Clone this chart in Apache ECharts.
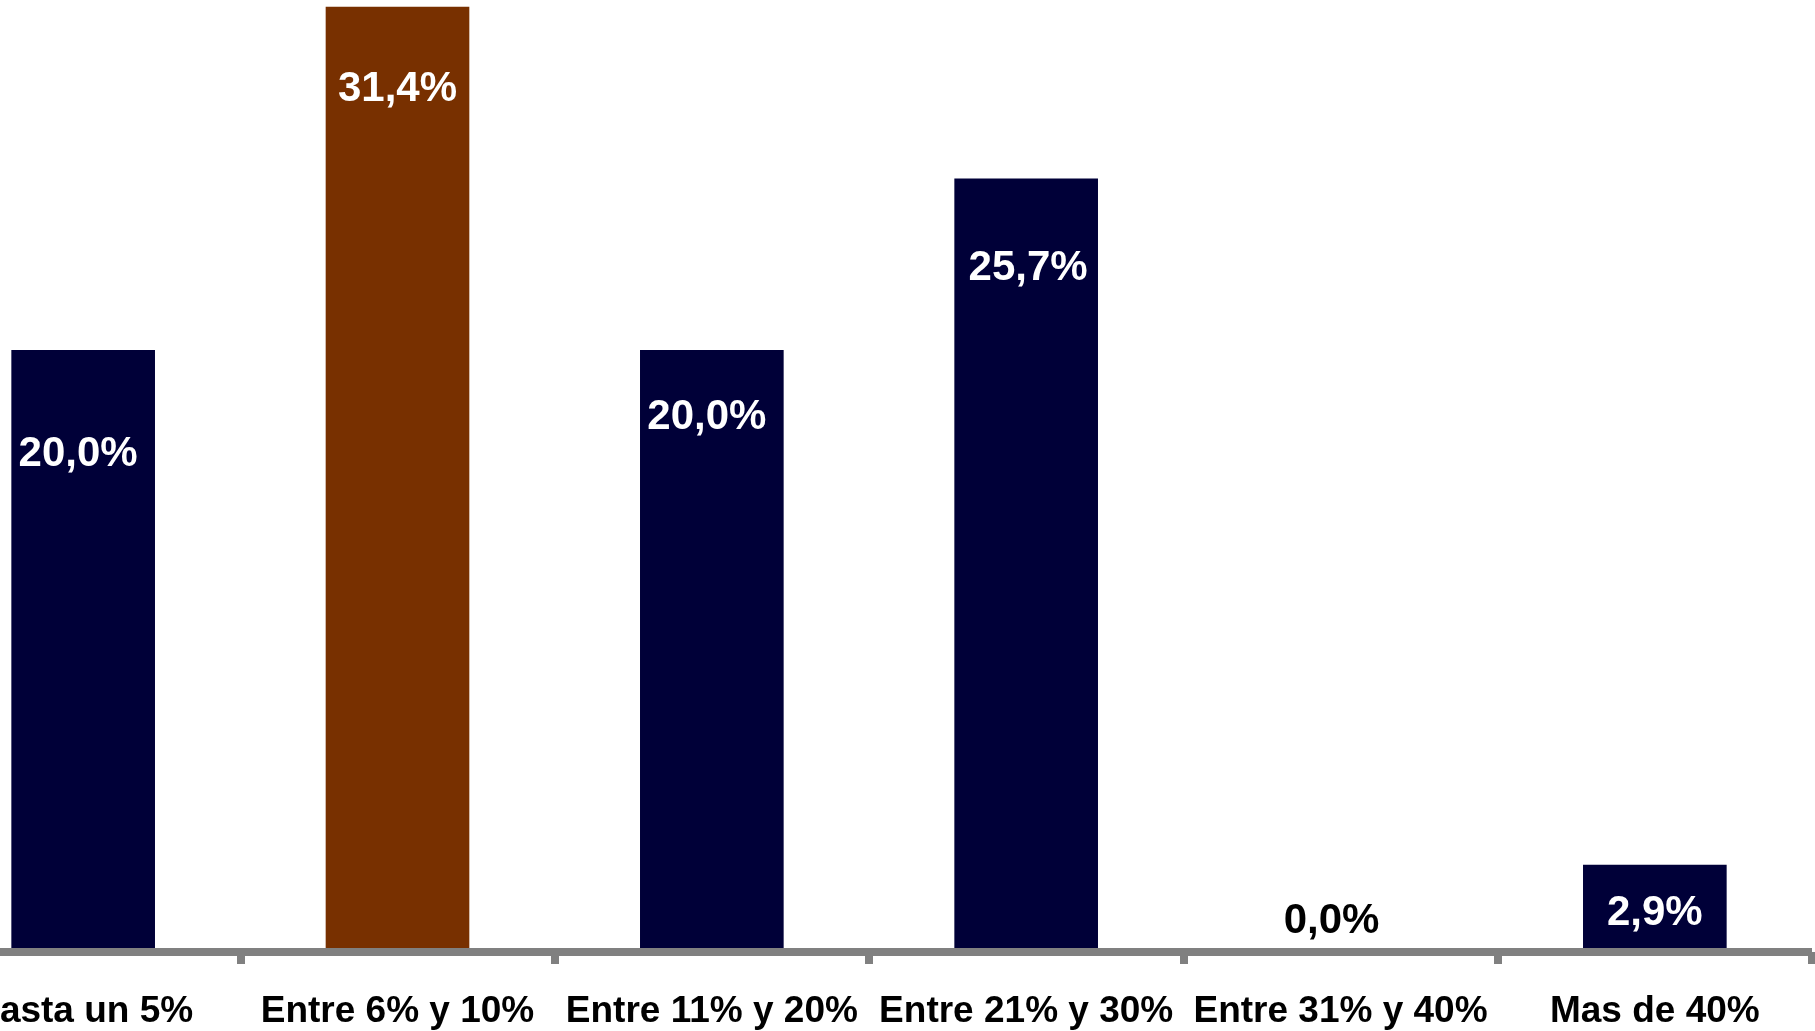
<!DOCTYPE html>
<html>
<head>
<meta charset="utf-8">
<script src="https://cdn.jsdelivr.net/npm/echarts@6/dist/echarts.min.js"></script>
<style>
html,body{margin:0;padding:0;background:#fff;overflow:hidden;width:1815px;height:1031px;position:relative;}
#chart{position:absolute;left:-74.5px;top:-20px;width:1890px;height:1051px;}
</style>
</head>
<body>
<div id="chart"></div>
<script>
const categories = ["Hasta un 5%", "Entre 6% y 10%", "Entre 11% y 20%", "Entre 21% y 30%", "Entre 31% y 40%", "Mas de 40%"];
const values = [20.0, 31.4, 20.0, 25.7, 0.0, 2.9];
const highlightIndex = 1;

// label placement (style only)
const labelOffsets = [[-5, 83], [0, 62], [-5, 46], [2, 69], [-9, -52], [0, 28]];
const labelColors = ["#fff", "#fff", "#fff", "#fff", "#000", "#fff"];

const fmt = v => v.toFixed(1).replace('.', ',') + '%';

const chart = echarts.init(document.getElementById('chart'));
chart.setOption({
  animation: false,
  backgroundColor: '#ffffff',
  grid: { left: 0, right: 4, top: 8.8, bottom: 79, containLabel: false },
  xAxis: {
    type: 'category',
    data: categories,
    offset: 3,
    z: 5,
    axisLine: { show: true, lineStyle: { color: '#808080', width: 8, cap: 'butt' } },
    axisTick: { show: true, length: 12, lineStyle: { color: '#808080', width: 8 } },
    axisLabel: {
      margin: 38,
      color: '#000',
      fontFamily: 'Liberation Sans, Arial, sans-serif',
      fontWeight: 'bold',
      fontSize: 37,
      interval: 0
    },
    splitLine: { show: false }
  },
  yAxis: {
    type: 'value',
    min: 0,
    max: 32,
    show: false,
    splitLine: { show: false }
  },
  series: [{
    type: 'bar',
    barWidth: '45.7%',
    data: values.map((v, i) => ({
      value: v,
      itemStyle: { color: i === highlightIndex ? '#783000' : '#000038' },
      label: { offset: labelOffsets[i], color: labelColors[i] }
    })),
    label: {
      show: true,
      position: 'insideTop',
      distance: 0,
      formatter: p => fmt(p.value),
      fontFamily: 'Liberation Sans, Arial, sans-serif',
      fontWeight: 'bold',
      fontSize: 42
    }
  }]
});
</script>
</body>
</html>
